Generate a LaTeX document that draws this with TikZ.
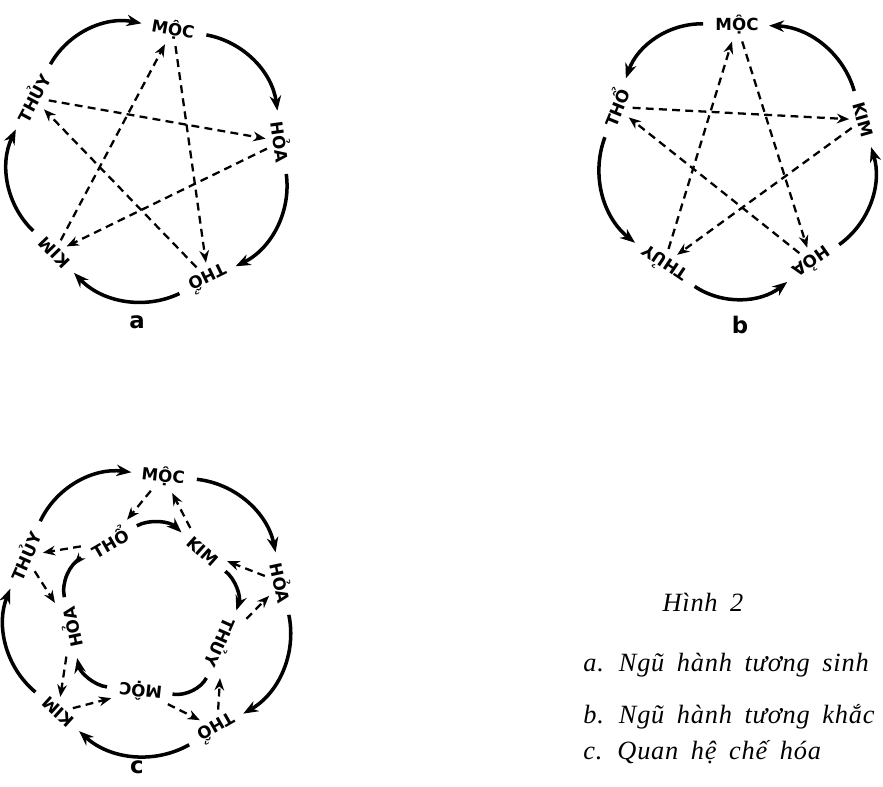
\documentclass[tikz,border=0pt]{standalone}
\usepackage{fontspec}
\setmainfont{Liberation Serif}
\newfontfamily\hanhfont{DejaVu Sans}
\newfontfamily\capfont[WordSpace=1.7,LetterSpace=3]{Liberation Serif}
\usetikzlibrary{arrows.meta, decorations.markings}

\tikzset{
  hanh/.style={font=\hanhfont\bfseries\fontsize{9.5}{9.5}\selectfont, inner sep=1pt, outer sep=2pt},
  sinh/.style={line width=2pt, -{Stealth[length=8.5pt,width=6.5pt]}, shorten <=4pt, shorten >=3pt},
  khac/.style={line width=1.3pt, dash pattern=on 4.5pt off 3pt, -{Stealth[length=7pt,width=5.5pt]}, shorten <=1pt, shorten >=1pt},
  hinhlabel/.style={font=\hanhfont\bfseries\fontsize{13}{13}\selectfont},
  chuthich/.style={font=\capfont\itshape\fontsize{15}{15}\selectfont, anchor=west, inner sep=0pt}
}

\begin{document}
\begin{tikzpicture}[x=0.02cm, y=0.02cm]
\useasboundingbox (0,0) rectangle (883,787);

% a. tuong sinh
\begin{scope}[shift={(150,627)}]
  \node[hanh, rotate=-10] (amoc) at (80:133) {MỘC};
  \node[hanh, rotate=-82] (ahoa) at (8:133) {HỎA};
  \node[hanh, rotate=-154] (atho) at (-64:133) {THỔ};
  \node[hanh, rotate=134] (akim) at (-136:133) {KIM};
  \node[hanh, rotate=62] (athuy) at (152:133) {THỦY};
  \draw[sinh] (amoc) to[bend left=36] (ahoa);
  \draw[sinh] (ahoa) to[bend left=36] (atho);
  \draw[sinh] (atho) to[bend left=36] (akim);
  \draw[sinh] (akim) to[bend left=36] (athuy);
  \draw[sinh] (athuy) to[bend left=36] (amoc);
  \draw[khac] (amoc) -- (atho);
  \draw[khac] (atho) -- (athuy);
  \draw[khac] (athuy) -- (ahoa);
  \draw[khac] (ahoa) -- (akim);
  \draw[khac] (akim) -- (amoc);
\end{scope}
\node[hinhlabel] (la) at (137,465) {a};

% b. tuong khac
\begin{scope}[shift={(737,631)}]
  \node[hanh] (bmoc) at (90:131) {MỘC};
  \node[hanh, rotate=-74] (bkim) at (16:131) {KIM};
  \node[hanh, rotate=-145] (bhoa) at (-55:131) {HỎA};
  \node[hanh, rotate=146] (bthuy) at (-124:131) {THỦY};
  \node[hanh, rotate=68] (btho) at (158:131) {THỔ};
  \draw[sinh] (bmoc) to[bend right=36] (btho);
  \draw[sinh] (btho) to[bend right=36] (bthuy);
  \draw[sinh] (bthuy) to[bend right=36] (bhoa);
  \draw[sinh] (bhoa) to[bend right=36] (bkim);
  \draw[sinh] (bkim) to[bend right=36] (bmoc);
  \draw[khac] (bmoc) -- (bhoa);
  \draw[khac] (bhoa) -- (btho);
  \draw[khac] (btho) -- (bkim);
  \draw[khac] (bkim) -- (bthuy);
  \draw[khac] (bthuy) -- (bmoc);
\end{scope}
\node[hinhlabel] (lb) at (740,462) {b};

% c. che hoa
\begin{scope}[shift={(149,176)}]
  % vong ngoai
  \node[hanh, rotate=-6] (cmoc) at (84:136) {MỘC};
  \node[hanh, rotate=-78] (choa) at (12:136) {HỎA};
  \node[hanh, rotate=-150] (ctho) at (-60:136) {THỔ};
  \node[hanh, rotate=138] (ckim) at (-132:136) {KIM};
  \node[hanh, rotate=66] (cthuy) at (156:136) {THỦY};
  % vong trong
  \node[hanh, rotate=30] (cntho) at (120:80) {THỔ};
  \node[hanh, rotate=-42] (cnkim) at (48:80) {KIM};
  \node[hanh, rotate=-114] (cnthuy) at (-24:80) {THỦY};
  \node[hanh, rotate=174] (cnmoc) at (-96:80) {MỘC};
  \node[hanh, rotate=102] (cnhoa) at (-168:80) {HỎA};
  \draw[sinh] (cmoc) to[bend left=36] (choa);
  \draw[sinh] (choa) to[bend left=36] (ctho);
  \draw[sinh] (ctho) to[bend left=36] (ckim);
  \draw[sinh] (ckim) to[bend left=36] (cthuy);
  \draw[sinh] (cthuy) to[bend left=36] (cmoc);
  \draw[sinh] (cntho) to[bend left=36] (cnkim);
  \draw[sinh] (cnkim) to[bend left=36] (cnthuy);
  \draw[sinh, -] (cnthuy) to[bend left=36] (cnmoc);
  \draw[sinh] (cnmoc) to[bend left=36] (cnhoa);
  \draw[sinh, -, postaction={decorate}, decoration={markings, mark=at position 0.3 with {\arrow{Stealth[length=7pt,width=5pt]}}}] (cntho) to[bend right=36] (cnhoa);
  \draw[khac] (cmoc) -- (cntho);
  \draw[khac] (cnkim) -- (cmoc);
  \draw[khac] (choa) -- (cnkim);
  \draw[khac] (cnthuy) -- (choa);
  \draw[khac] (ctho) -- (cnthuy);
  \draw[khac] (cnmoc) -- (ctho);
  \draw[khac] (ckim) -- (cnmoc);
  \draw[khac] (cnhoa) -- (ckim);
  \draw[khac] (cthuy) -- (cnhoa);
  \draw[khac] (cntho) -- (cthuy);
\end{scope}
\node[hinhlabel] (lc) at (137,20) {c};

% chu thich
\node[chuthich, anchor=center] (hinh) at (703,185) {Hình 2};
\node[chuthich] (capa) at (583,122) {a. Ngũ hành tương sinh};
\node[chuthich] (capb) at (583,70) {b. Ngũ hành tương khắc};
\node[chuthich] (capc) at (583,35) {c. Quan hệ chế hóa};
\end{tikzpicture}
\end{document}
